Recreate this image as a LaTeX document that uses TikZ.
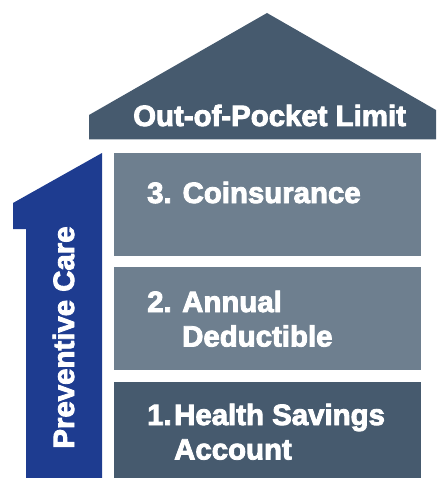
\documentclass[tikz,border=0pt]{standalone}
\usepackage{fontspec}
\newfontfamily\heavy{Liberation Sans}[BoldFeatures={FakeBold=3}]
\definecolor{roofc}{HTML}{465A6E}
\definecolor{lightc}{HTML}{6E7F8F}
\definecolor{bluec}{HTML}{1E3C90}
\begin{document}
\begin{tikzpicture}[x=1pt,y=-1pt,
  lbl/.style={text=white,inner sep=0pt,font=\heavy\bfseries\fontsize{29.4}{34.5}\selectfont}]
\useasboundingbox (0,0) rectangle (436,478);
% roof
\fill[roofc] (89,139.5) -- (89,115) -- (267,13) -- (436,110) -- (436,139.5) -- cycle;
\coordinate (roof) at (133,126);
\node[lbl,anchor=base west] (rooftext) at (roof) {Out-of-Pocket Limit};
% blue "1"
\fill[bluec] (102,153) -- (13,203) -- (13,229) -- (26,229) -- (26,478) -- (102,478) -- cycle;
\node[lbl,rotate=90,anchor=base] (prev) at (74,337.5) {Preventive Care};
% boxes
\fill[lightc] (114,153) rectangle (421,256);
\fill[lightc] (114,267) rectangle (421,370);
\fill[roofc] (114,382) rectangle (421,478);
\node[lbl,anchor=base west] (n3) at (147,203) {3. Coinsurance};
\node[lbl,anchor=base west] (n2) at (147,312) {2.};
\node[lbl,anchor=base west] (t2) at (182,312) {\begin{tabular}[t]{@{}l@{}}Annual\\Deductible\end{tabular}};
\node[lbl,anchor=base west] (n1) at (147,425) {1.};
\node[lbl,anchor=base west] (t1) at (174,425) {\begin{tabular}[t]{@{}l@{}}Health Savings\\Account\end{tabular}};
\end{tikzpicture}
\end{document}
